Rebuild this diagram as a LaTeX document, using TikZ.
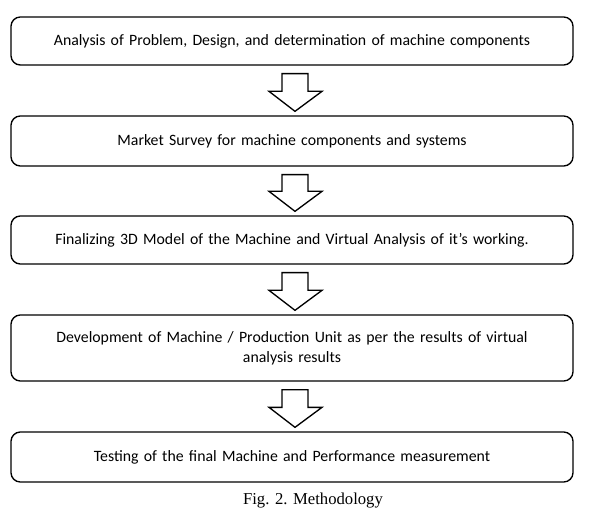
\documentclass[tikz,border=0pt]{standalone}
\usepackage{fontspec}
\setmainfont{Carlito}
\newfontfamily\captionfont{Liberation Serif}
\usetikzlibrary{positioning, calc}
\tikzset{
    stepbox/.style={rectangle, draw=black, line width=1pt, rounded corners=7pt, minimum width=421.5pt, minimum height=36pt, text width=380pt, align=center, font=\fontsize{11.85}{15}\selectfont},
    hollowarrow/.style={draw=black, line width=1pt, fill=white, line join=miter},
}
\begin{document}
\begin{tikzpicture}[x=0.75pt, y=-0.75pt]
    \useasboundingbox (0,0) rectangle (596,513);

    % Schritte
    \node[stepbox] (s1) at (292,41) {Analysis of Problem, Design, and determination of machine components};
    \node[stepbox, minimum height=37.5pt] (s2) at (292,141) {Market Survey for machine components and systems};
    \node[stepbox] (s3) at (292,240) {Finalizing 3D Model of the Machine and Virtual Analysis of it’s working.};
    \node[stepbox, minimum height=49.5pt] (s4) at (292,348) {Development of Machine / Production Unit as per the results of virtual\\ analysis results};
    \node[stepbox, minimum height=37.5pt] (s5) at (292,457) {Testing of the final Machine and Performance measurement};

    % Blockpfeile
    \foreach \a/\b in {s1/s2, s2/s3, s3/s4, s4/s5}{
        \draw[hollowarrow] ($(\a.south)+(-10,8)$) -- ($(\a.south)+(16,8)$)
            -- ($(\b.north)+(16,-24)$) -- ($(\b.north)+(30,-24)$)
            -- ($(\b.north)+(3,-4)$) -- ($(\b.north)+(-23,-24)$)
            -- ($(\b.north)+(-10,-24)$) -- cycle;
    }

    % Bildunterschrift
    \node[font=\captionfont\fontsize{12.5}{14}\selectfont] (cap) at (313,501) {Fig. 2. Methodology};
\end{tikzpicture}
\end{document}
